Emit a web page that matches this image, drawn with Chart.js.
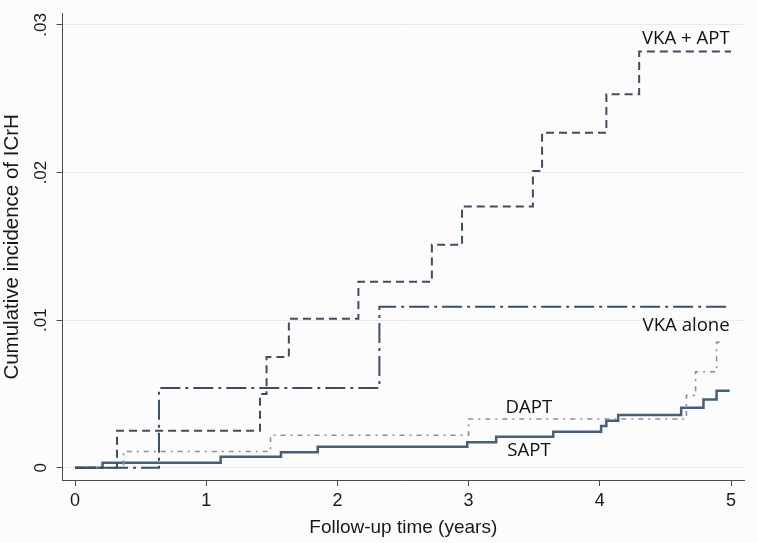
<!DOCTYPE html>
<html>
<head>
<meta charset="utf-8">
<script src="https://cdn.jsdelivr.net/npm/chart.js@4/dist/chart.umd.min.js"></script>
<style>
  html, body { margin: 0; padding: 0; background: #fcfcfd; }
  #wrap { position: relative; width: 757px; height: 543px; }
</style>
</head>
<body>
<div id="wrap"><canvas id="c" width="757" height="543"></canvas></div>
<script>
// ---- Data (years, cumulative incidence) ----
const xTicks = [0, 1, 2, 3, 4, 5];
const yTicks = [0, 0.01, 0.02, 0.03];
const seriesNames = ['VKA + APT', 'VKA alone', 'DAPT', 'SAPT'];

const vkaAptTime = [0, 0.32, 1.41, 1.46, 1.63, 2.16, 2.72, 2.95, 3.49, 3.56, 4.05, 4.30, 5.00];
const vkaAptInc  = [0, 0.0025, 0.0050, 0.0075, 0.0101, 0.0126, 0.0151, 0.0177, 0.0201, 0.0227, 0.0253, 0.0282, 0.0282];

const vkaAloneTime = [0, 0.64, 2.32, 5.00];
const vkaAloneInc  = [0, 0.0054, 0.0109, 0.0109];

const daptTime = [0, 0.37, 1.49, 3.00, 4.66, 4.73, 4.89, 4.95];
const daptInc  = [0, 0.0011, 0.0022, 0.0033, 0.0049, 0.0065, 0.0085, 0.0085];

const saptTime = [0, 0.21, 1.11, 1.57, 1.85, 2.99, 3.21, 3.645, 4.01, 4.05, 4.14, 4.62, 4.79, 4.89, 4.99];
const saptInc  = [0, 0.00034, 0.00075, 0.00104, 0.00142, 0.00172, 0.00210, 0.00243, 0.00282, 0.00318, 0.00357, 0.00406, 0.00463, 0.00522, 0.00522];

function pts(t, v) { return t.map((x, i) => ({ x: x, y: v[i] })); }

const navy = '#3b4e66';
const navy2 = '#465f7e';
const grayBlue = '#8490a0';

const labelPlugin = {
  id: 'curveLabels',
  afterDatasetsDraw(chart) {
    const { ctx, scales: { x, y } } = chart;
    const items = [
      { text: seriesNames[0], x: 4.99, y: 0.02905, align: 'right' },
      { text: seriesNames[1], x: 4.99, y: 0.00963, align: 'right' },
      { text: seriesNames[2], x: 3.46, y: 0.00410, align: 'center' },
      { text: seriesNames[3], x: 3.46, y: 0.00112, align: 'center' }
    ];
    ctx.save();
    ctx.fillStyle = '#111111';
    ctx.font = '18.6px "Open Sans", "Noto Sans", sans-serif';
    ctx.textBaseline = 'middle';
    items.forEach(it => {
      ctx.textAlign = it.align;
      ctx.fillText(it.text, x.getPixelForValue(it.x), y.getPixelForValue(it.y));
    });
    ctx.restore();
  }
};

new Chart(document.getElementById('c'), {
  type: 'line',
  data: {
    datasets: [
      { label: seriesNames[0], data: pts(vkaAptTime, vkaAptInc), borderColor: navy, borderWidth: 2, borderDash: [8, 5], stepped: 'before', pointRadius: 0, fill: false },
      { label: seriesNames[1], data: pts(vkaAloneTime, vkaAloneInc), borderColor: navy, borderWidth: 2, borderDash: [20, 5, 3, 5], stepped: 'before', pointRadius: 0, fill: false },
      { label: seriesNames[2], data: pts(daptTime, daptInc), borderColor: grayBlue, borderWidth: 1.6, borderDash: [5, 5, 2, 5], stepped: 'before', pointRadius: 0, fill: false },
      { label: seriesNames[3], data: pts(saptTime, saptInc), borderColor: navy2, borderWidth: 2.5, stepped: 'before', pointRadius: 0, fill: false }
    ]
  },
  options: {
    responsive: false,
    animation: false,
    layout: { padding: { top: 12.7, right: 13, left: 0, bottom: 0 } },
    plugins: { legend: { display: false }, tooltip: { enabled: false } },
    scales: {
      x: {
        type: 'linear',
        min: -0.0953,
        max: 5.099,
        afterBuildTicks: s => { s.ticks = xTicks.map(v => ({ value: v })); },
        afterFit: s => { s.height = 63; },
        grid: { display: true, drawOnChartArea: false, tickLength: 6, tickColor: '#4a4a4a', tickWidth: 1 },
        border: { display: true, color: '#4a4a4a', width: 1 },
        ticks: { color: '#1a1a1a', padding: 4, font: { family: '"Liberation Sans", Arial, sans-serif', size: 18 }, callback: v => String(v) },
        title: { display: true, text: 'Follow-up time (years)', color: '#1a1a1a', font: { family: '"Liberation Sans", Arial, sans-serif', size: 19 }, padding: { top: 0, bottom: 3.6 } }
      },
      y: {
        type: 'linear',
        min: -0.000832,
        max: 0.030764,
        afterBuildTicks: s => { s.ticks = yTicks.map(v => ({ value: v })); },
        afterFit: s => { s.width = 62.5; },
        grid: { display: true, drawOnChartArea: true, color: '#e7eaee', lineWidth: 1, tickLength: 6, tickColor: '#4a4a4a' },
        border: { display: true, color: '#4a4a4a', width: 1 },
        ticks: {
          color: '#1a1a1a', padding: 3.5, minRotation: 90, maxRotation: 90, crossAlign: 'center',
          font: { family: '"Liberation Sans", Arial, sans-serif', size: 17 },
          callback: v => v === 0 ? '0' : '.' + String(Math.round(v * 100)).padStart(2, '0')
        },
        title: { display: true, text: 'Cumulative incidence of ICrH', color: '#1a1a1a', font: { family: '"Liberation Sans", Arial, sans-serif', size: 20.5 }, padding: { top: 0.5, bottom: 0 } }
      }
    }
  },
  plugins: [labelPlugin]
});
</script>
</body>
</html>
